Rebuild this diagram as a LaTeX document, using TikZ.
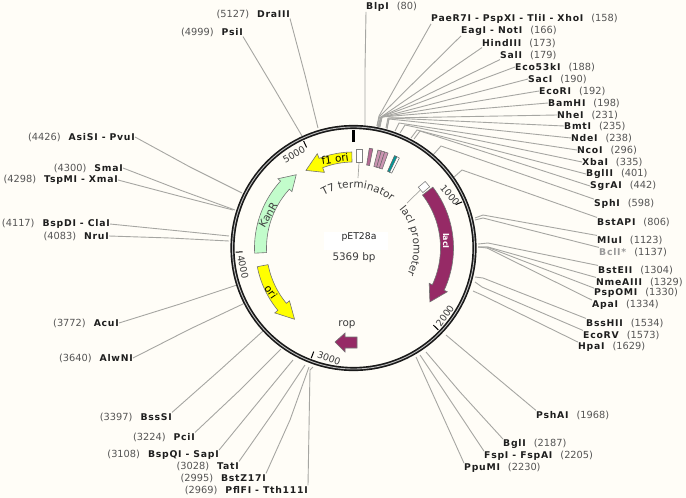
\documentclass[tikz,border=0pt]{standalone}
\usepackage{fontspec}
\setmainfont{DejaVu Sans}
\newfontfamily\lblbold[LetterSpace=8]{DejaVu Sans}
\usetikzlibrary{decorations.text}
\definecolor{bgc}{HTML}{FFFDF7}
\definecolor{conncol}{HTML}{A6A6A2}
\definecolor{numcol}{HTML}{555555}
\definecolor{namecol}{HTML}{1E1E1E}
\definecolor{mauve}{HTML}{962A66}
\definecolor{kancol}{HTML}{C2FCCB}
\definecolor{oricol}{HTML}{FFFF00}
\definecolor{txtcol}{HTML}{3C3C3C}
\newcommand\namefont{\fontsize{9.3}{10}\lblbold\bfseries}
\newcommand\numfont{\fontsize{9.8}{10}\selectfont}
\newcommand\mapfont{\fontsize{10.4}{11}\selectfont}
\tikzset{
  rlab/.style={anchor=west,inner sep=0pt},
  llab/.style={anchor=east,inner sep=0pt},
  conn/.style={draw=conncol,line width=0.9pt},
  feat/.style={draw=black!55,line width=0.6pt},
  maplabel/.style={inner sep=0pt,font=\mapfont,text=txtcol},
  ticktext/.style={inner sep=0pt,font=\fontsize{9.4}{10}\selectfont,text=txtcol},
  ticktick/.style={draw=black,line width=1pt},
}
% id, pos, name, number, start anchor, bend, end
\newcommand\rs[7]{%
  \node[rlab] (#1) at (#2) {{\namefont\selectfont\textcolor{namecol}{#3}}\hspace{8pt}{\numfont\textcolor{numcol}{(#4)}}};
  \coordinate (#1b) at (#6);
  \coordinate (#1e) at (#7);
  \draw[conn] (#1.#5) -- (#1b) -- (#1e);}
\newcommand\ls[7]{%
  \node[llab] (#1) at (#2) {{\numfont\textcolor{numcol}{(#4)}}\hspace{8pt}{\namefont\selectfont\textcolor{namecol}{#3}}};
  \coordinate (#1b) at (#6);
  \coordinate (#1e) at (#7);
  \draw[conn] (#1.#5) -- (#1b) -- (#1e);}
% tail, neck, tip, ri, ro, barb, colour (clock angles)
\newcommand\arcarrow[7]{%
  \draw[feat,fill=#7] plot[domain=#1:#2,samples=30] ({\x-90}:{#5}) -- ({#2-90}:{#5+#6}) -- ({#3-90}:{(#4+#5)/2}) -- ({#2-90}:{#4-#6}) -- plot[domain=#2:#1,samples=30] ({\x-90}:{#4}) -- cycle;}
\newcommand\tinyfeat[3]{%
  \draw[black!60,line width=0.5pt,fill=#3] plot[domain=#1:#2,samples=4] ({\x-90}:{101}) -- plot[domain=#2:#1,samples=4] ({\x-90}:{84}) -- cycle;}
\begin{document}
\begin{tikzpicture}[x=1pt,y=-1pt]
\useasboundingbox (0,0) rectangle (686,498);
\fill[bgc] (0,0) rectangle (686,498);

% connectors and labels, right side
\rs{blp}{366,7}{BlpI}{80}{south west}{365,70}{365,125}
\rs{pae}{431,19}{PaeR7I - PspXI - TliI - XhoI}{158}{south west}{379,116}{377,126}
\rs{eag}{461,31}{EagI - NotI}{166}{south west}{380,116}{377,126}
\rs{hin}{482,43}{HindIII}{173}{south west}{381,117}{378,127}
\rs{sal}{500,55}{SalI}{179}{south west}{381,117}{378,127}
\rs{eco}{515,67}{Eco53kI}{188}{west}{381,117}{378,127}
\rs{sac}{528,79}{SacI}{190}{west}{382,117}{379,127}
\rs{ecr}{539,91}{EcoRI}{192}{west}{382,117}{379,127}
\rs{bam}{548,103}{BamHI}{198}{west}{382,117}{380,127}
\rs{nhe}{557,115}{NheI}{231}{west}{388,118}{386,128}
\rs{bmt}{564,126}{BmtI}{235}{west}{389,118}{387,128}
\rs{nde}{571,138}{NdeI}{238}{west}{389,119}{387,129}
\rs{nco}{577,150}{NcoI}{296}{west}{399,123}{395,131}
\rs{xba}{582,162}{XbaI}{335}{west}{405,125}{400,133}
\rs{bgl}{586,174}{BglII}{401}{west}{417,130}{411,138}
\rs{sgr}{590,186}{SgrAI}{442}{west}{420,131}{414,139}
\rs{sph}{594,204}{SphI}{598}{north west}{441,146}{433,155}
\rs{bap}{597,222}{BstAPI}{806}{north west}{462,170}{453,178}
\rs{mlu}{597,240}{MluI}{1123}{north west}{483,215}{475,218}
\rs{nme}{596,282}{NmeAIII}{1329}{north west}{488,247}{478,247}
\rs{psp}{594,293}{PspOMI}{1330}{north west}{487,247}{478,247}
\rs{apa}{592,305}{ApaI}{1334}{north west}{487,248}{478,247}
\rs{bst}{598,270}{BstEII}{1304}{north west}{488,243}{478,244}
\rs{bss}{586,323}{BssHII}{1534}{north west}{483,278}{475,277}
\rs{ecv}{583,335}{EcoRV}{1573}{north west}{482,287}{475,282}
\rs{hpa}{578,347}{HpaI}{1629}{north west}{482,295}{473,291}
\rs{psh}{536,415}{PshAI}{1968}{north west}{490,372}{446,335}
\rs{bgi}{503,444}{BglI}{2187}{north west}{460,392}{426,352}
\rs{fsp}{484,456}{FspI - FspAI}{2205}{north west}{450,400}{420,355}
\rs{ppu}{464,468}{PpuMI}{2230}{north west}{440,410}{416,357}
% BclI*, printed in grey
\node[rlab] (bcl) at (599,252) {{\namefont\selectfont\textcolor{black!40}{BclI*}}\hspace{8pt}{\numfont\textcolor{numcol}{(1137)}}};
\coordinate (bclb) at (483,218);
\coordinate (bcle) at (475,220);
\draw[conn] (bcl.north west) -- (bclb) -- (bcle);

% connectors and labels, left side
\ls{dra}{290,14}{DraIII}{5127}{south east}{305,75}{318,128}
\ls{psi}{243,32}{PsiI}{4999}{south east}{275,90}{302,136}
\ls{asi}{135,137}{AsiSI - PvuI}{4426}{east}{190,167}{242,193}
\ls{sma}{123,168}{SmaI}{4300}{east}{180,190}{235,210}
\ls{tsp}{118,180}{TspMI - XmaI}{4298}{east}{175,195}{233,210}
\ls{bsp}{110,224}{BspDI - ClaI}{4117}{east}{170,230}{229,236}
\ls{nru}{109,236}{NruI}{4083}{east}{170,238}{229,241}
\ls{acu}{119,323}{AcuI}{3772}{east}{180,304}{237,285}
\ls{alw}{133,358}{AlwNI}{3640}{east}{190,329}{245,303}
\ls{bsi}{172,417}{BssSI}{3397}{north east}{220,370}{263,331}
\ls{pci}{195,437}{PciI}{3224}{north east}{240,390}{281,349}
\ls{spq}{219,455}{BspQI - SapI}{3108}{north east}{260,400}{293,360}
\ls{tat}{239,466}{TatI}{3028}{north east}{275,410}{305,365}
\ls{bzi}{266,478}{BstZ17I}{2995}{north east}{290,420}{309,367}
\ls{pfl}{308,490}{PflFI - Tth111I}{2969}{north east}{310,370}{313,367}

% backbone
\coordinate (cen) at (353.5,248);
\draw[black!90,line width=4.2pt] (cen) circle[radius=121];
\draw[black!25,line width=0.9pt] (cen) circle[radius=121];

\begin{scope}[shift={(353.5,248)}]
  % ticks
  \draw[ticktick,line width=2.2pt] (-90:106) -- (-90:118);
  \foreach \a in {67,134,201,268,335} \draw[ticktick] ({\a-90}:111) -- ({\a-90}:118);
  % features
  \arcarrow{359}{339}{328.5}{86}{96}{5}{oricol}
  \arcarrow{267}{312.5}{322}{87}{99}{3.5}{kancol}
  \arcarrow{259}{230.5}{219.6}{87}{98}{4}{oricol}
  \arcarrow{52.5}{115}{125.2}{87}{100}{3.5}{mauve}
  \tinyfeat{9}{11}{mauve!70}
  \tinyfeat{14}{16}{mauve!50}
  \tinyfeat{16}{18}{mauve!50}
  \tinyfeat{18}{20}{mauve!50}
  \tinyfeat{24}{27}{white}
  \tinyfeat{24}{25.5}{teal!80!cyan}
  % curved labels
  \path[decorate,decoration={text along path,text align=center,text={|\mapfont\color{txtcol}|T7 terminator}}]
    plot[domain=-33:42,samples=40] ({\x-90}:{60});
  \path[decorate,decoration={text along path,text align=center,text={|\mapfont\color{txtcol}|lacI promoter}}]
    plot[domain=46:120,samples=40] ({\x-90}:{60});
\end{scope}

% T7 terminator and lacI promoter boxes
\node[draw=black!50,fill=white,line width=0.6pt,minimum width=6pt,minimum height=13pt,inner sep=0pt] (t7box) at (359,156) {};
\coordinate (t7lab) at (358,178);
\draw[conn,line width=0.7pt] (t7box.south) -- (t7lab);
\node[draw=black!50,fill=white,line width=0.6pt,minimum width=9pt,minimum height=7pt,inner sep=0pt,rotate=40] (lacp) at (424,187) {};
\coordinate (laclab) at (407,203);
\draw[conn,line width=0.7pt] (lacp.west) -- (laclab);

% rop
\draw[feat,fill=mauve] (357,337) -- (345,337) -- (345,333) -- (335,342) -- (345,352) -- (345,348) -- (357,348) -- cycle;

% feature labels
\node[maplabel,text=black,rotate=8] (f1lab) at (335,159) {f1 ori};
\node[maplabel,text=black!75,rotate=60] (kanlab) at (268,215) {KanR};
\node[maplabel,text=black,rotate=-55] (orilab) at (271,292) {ori};
\node[inner sep=0pt,font=\fontsize{8}{9}\selectfont,text=white,rotate=-90] (laclabel) at (446,241) {\textbf{lacI}};
\node[maplabel] (roplab) at (347,325) {rop};

% tick texts
\node[ticktext,rotate=-50] (t1) at (450,195) {1000};
\node[ticktext,rotate=55] (t2) at (445,316) {2000};
\node[ticktext,rotate=-20] (t3) at (329,358) {3000};
\node[ticktext,rotate=-78] (t4) at (243,267) {4000};
\node[ticktext,rotate=30] (t5) at (294,155) {5000};

% centre
\node[fill=white,minimum width=64pt,minimum height=18pt,inner sep=0pt] (title) at (356,241) {};
\node[inner sep=0pt,font=\fontsize{9.3}{10}\selectfont,text=black!85] (titletxt) at (359,237) {pET28a};
\node[inner sep=0pt,font=\mapfont,text=txtcol] (size) at (354,258) {5369 bp};
\end{tikzpicture}
\end{document}
